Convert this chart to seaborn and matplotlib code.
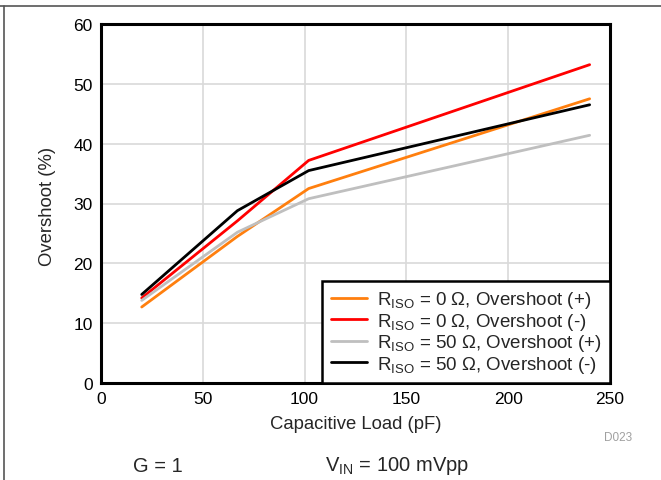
import matplotlib
matplotlib.use("Agg")
import matplotlib.pyplot as plt
import seaborn as sns
import pandas as pd
from matplotlib.lines import Line2D

sns.set_theme(style="white")
plt.rcParams['font.family'] = ['Liberation Sans', 'DejaVu Sans']
plt.rcParams['mathtext.fontset'] = 'custom'
plt.rcParams['mathtext.rm'] = 'Liberation Sans'
plt.rcParams['mathtext.it'] = 'Liberation Sans'

cap_load = [20, 67, 102, 240]
riso0_pos = [12.7, 24.5, 32.5, 47.5]
riso0_neg = [14.2, 27.1, 37.2, 53.2]
riso50_pos = [13.8, 25.2, 30.8, 41.4]
riso50_neg = [14.8, 28.8, 35.5, 46.5]

series_labels = [
    r"R$_{\mathregular{ISO}}$ = 0 Ω, Overshoot (+)",
    r"R$_{\mathregular{ISO}}$ = 0 Ω, Overshoot (-)",
    r"R$_{\mathregular{ISO}}$ = 50 Ω, Overshoot (+)",
    r"R$_{\mathregular{ISO}}$ = 50 Ω, Overshoot (-)",
]
series_colors = ["#ff7f0e", "#ff0000", "#bfbfbf", "#000000"]
x_ticks = [0, 50, 100, 150, 200, 250]
y_ticks = [0, 10, 20, 30, 40, 50, 60]

rows = []
for lab, vals in zip(series_labels, [riso0_pos, riso0_neg, riso50_pos, riso50_neg]):
    for x, y in zip(cap_load, vals):
        rows.append({"x": x, "y": y, "series": lab})
df = pd.DataFrame(rows)

fig = plt.figure(figsize=(6.61, 4.81), dpi=100)
ax = fig.add_axes([101/661, 1-384/481, (610-101)/661, (384-25)/481])

sns.lineplot(data=df, x="x", y="y", hue="series", hue_order=series_labels,
             palette=series_colors, linewidth=2.0, ax=ax, legend=False,
             sort=False, estimator=None)

ax.set_xlim(0, 250)
ax.set_ylim(0, 60)
ax.set_xticks(x_ticks)
ax.set_yticks(y_ticks)
ax.set_xticklabels([str(t) for t in x_ticks], fontsize=12.5)
ax.set_yticklabels([str(t) for t in y_ticks], fontsize=12.5)
ax.tick_params(axis='both', length=0, pad=6, colors="black")
ax.grid(True, color="#d9d9d9", linewidth=1.2)
ax.set_axisbelow(True)
for s in ax.spines.values():
    s.set_visible(True)
    s.set_color("black")
    s.set_linewidth(2.2)
ax.set_xlabel("")
ax.set_ylabel("")

handles = [Line2D([0], [0], color=c, lw=2.0) for c in series_colors]
leg = ax.legend(handles, series_labels, loc="lower right", bbox_to_anchor=(1, 0),
                borderaxespad=0, fontsize=13.5, frameon=True, fancybox=False,
                handlelength=1.95, handletextpad=0.5, labelspacing=0.02,
                borderpad=0.45)
leg.get_frame().set_edgecolor("black")
leg.get_frame().set_linewidth(1.8)
leg.get_frame().set_alpha(1)

fig.text(356/661, 1-425/481, "Capacitive Load (pF)", ha="center", va="center", fontsize=13.3)
fig.text(47/661, 1-206/481, "Overshoot (%)", ha="center", va="center", rotation=90, fontsize=13.3)
fig.text(618/661, 1-438/481, "D023", ha="center", va="center", fontsize=8.5, color="#a0a0a0")
fig.text(158/661, 1-466/481, "G = 1", ha="center", va="center", fontsize=14.5)
fig.text(397/661, 1-466/481, r"V$_{\mathregular{IN}}$ = 100 mVpp", ha="center", va="center", fontsize=14.5)

# figure frame lines
fig.add_artist(Line2D([0, 1], [1-6.5/481]*2, color="#555555", lw=1.2, transform=fig.transFigure))
fig.add_artist(Line2D([4/661]*2, [0, 1-6.5/481], color="#555555", lw=1.2, transform=fig.transFigure))

fig.savefig("out.png", dpi=100)
